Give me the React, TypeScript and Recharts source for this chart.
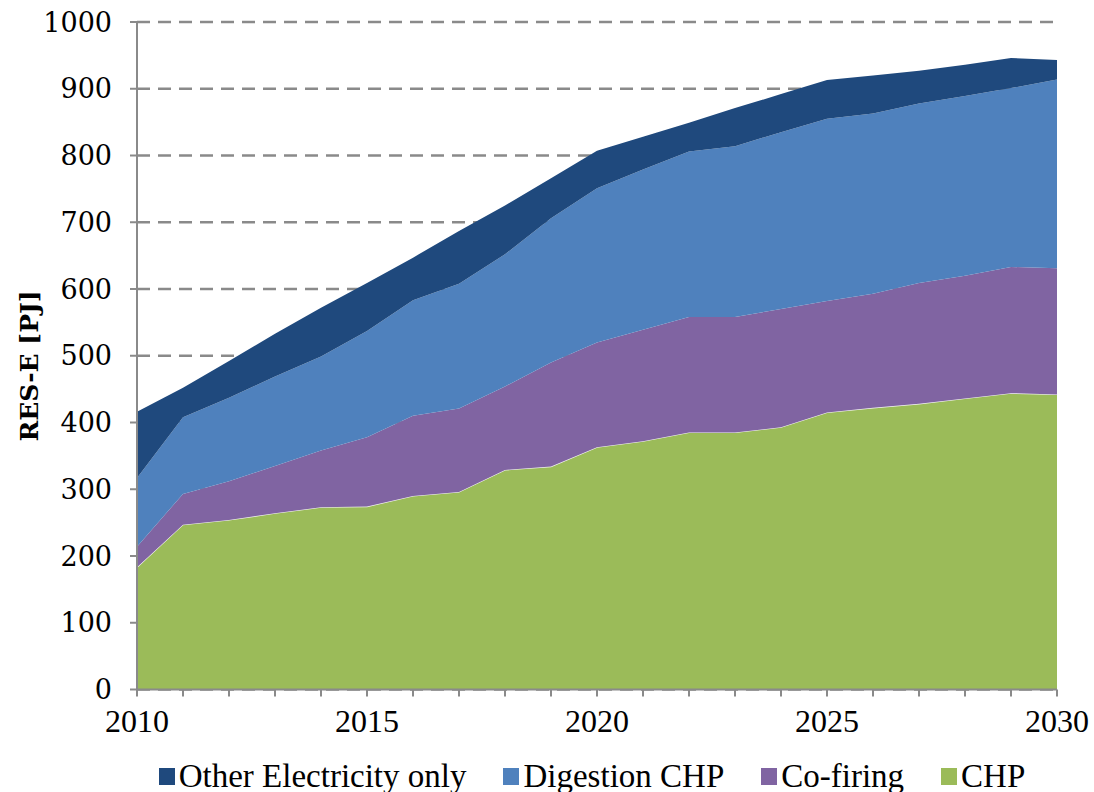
import React from "react";
import { AreaChart, Area, XAxis, YAxis, CartesianGrid } from "recharts";

const years = [2010, 2011, 2012, 2013, 2014, 2015, 2016, 2017, 2018, 2019, 2020, 2021, 2022, 2023, 2024, 2025, 2026, 2027, 2028, 2029, 2030];
const chp = [183, 247, 254, 264, 273, 274, 290, 296, 329, 334, 363, 372, 385, 385, 393, 415, 422, 428, 436, 444, 442];
const coFiring = [31, 46, 58, 71, 85, 104, 120, 125, 125, 156, 157, 167, 173, 173, 177, 167, 171, 181, 184, 189, 189];
const digestionChp = [103, 115, 125, 134, 141, 159, 173, 187, 198, 216, 231, 240, 248, 256, 265, 273, 270, 269, 269, 268, 283];
const otherElec = [99, 44, 55, 64, 73, 72, 64, 79, 73, 60, 56, 49, 43, 57, 57, 58, 57, 49, 47, 45, 29];

const yTicks = [0, 100, 200, 300, 400, 500, 600, 700, 800, 900, 1000];
const xLabelYears = [2010, 2015, 2020, 2025, 2030];

const seriesNames = ["Other Electricity only", "Digestion CHP", "Co-firing", "CHP"];
const seriesColors = ["#1F497D", "#4F81BD", "#8064A2", "#9BBB59"];

const data = years.map((y, i) => ({
  year: y,
  chp: chp[i],
  coFiring: coFiring[i],
  digestion: digestionChp[i],
  other: otherElec[i],
}));

const XTick = (props: any) => {
  const { x, y, payload } = props;
  if (!xLabelYears.includes(payload.value)) return null;
  return (
    <text x={x} y={y} dy="0.71em" textAnchor="middle" fill="#000" fontFamily="'Liberation Serif', serif" fontSize={32}>
      {payload.value}
    </text>
  );
};

const YTick = (props: any) => {
  const { x, y, payload } = props;
  return (
    <text x={x} y={y} dy="0.36em" textAnchor="end" fill="#000" fontFamily="'DejaVu Serif', serif" fontSize={27}>
      {payload.value}
    </text>
  );
};

export default function App() {
  return (
    <div style={{ position: "absolute", left: 0, top: 0, width: 1094, height: 792, background: "#fff" }}>
      <AreaChart width={1094} height={792} data={data} margin={{ top: 22, right: 37, left: 0, bottom: 0 }}>
        <CartesianGrid vertical={false} stroke="#8a8a8a" strokeWidth={2.5} strokeDasharray="13 8" />
        <XAxis
          dataKey="year"
          type="number"
          domain={[2010, 2030]}
          ticks={years}
          interval={0}
          height={102.5}
          tickSize={7}
          tickMargin={13}
          stroke="#8a8a8a"
          strokeWidth={2}
          tick={<XTick />}
        />
        <YAxis
          type="number"
          domain={[0, 1000]}
          ticks={yTicks}
          interval={0}
          width={137}
          tickSize={7}
          tickMargin={18}
          stroke="#8a8a8a"
          strokeWidth={2}
          tick={<YTick />}
        />
        <Area type="linear" dataKey="chp" stackId="a" fill={seriesColors[3]} fillOpacity={1} stroke="#f4f4f4" strokeWidth={1.2} isAnimationActive={false} />
        <Area type="linear" dataKey="coFiring" stackId="a" fill={seriesColors[2]} fillOpacity={1} stroke="none" isAnimationActive={false} />
        <Area type="linear" dataKey="digestion" stackId="a" fill={seriesColors[1]} fillOpacity={1} stroke="none" isAnimationActive={false} />
        <Area type="linear" dataKey="other" stackId="a" fill={seriesColors[0]} fillOpacity={1} stroke="none" isAnimationActive={false} />
      </AreaChart>
      <div
        style={{
          position: "absolute",
          left: 29,
          top: 366,
          transform: "translate(-50%, -50%) rotate(-90deg)",
          fontFamily: "'DejaVu Serif', serif",
          fontWeight: "bold",
          fontSize: 25,
          whiteSpace: "nowrap",
          color: "#000",
        }}
      >
        RES-E [PJ]
      </div>
      <div
        style={{
          position: "absolute",
          left: 137,
          width: 910,
          top: 758,
          display: "flex",
          justifyContent: "center",
          alignItems: "center",
          gap: 37,
          fontFamily: "'Liberation Serif', serif",
          fontSize: 33,
          color: "#000",
          whiteSpace: "nowrap",
        }}
      >
        {seriesNames.map((n, i) => (
          <div key={n} style={{ display: "flex", alignItems: "center" }}>
            <span style={{ display: "inline-block", width: 16, height: 17, background: seriesColors[i], marginRight: 4 }} />
            <span>{n}</span>
          </div>
        ))}
      </div>
    </div>
  );
}
